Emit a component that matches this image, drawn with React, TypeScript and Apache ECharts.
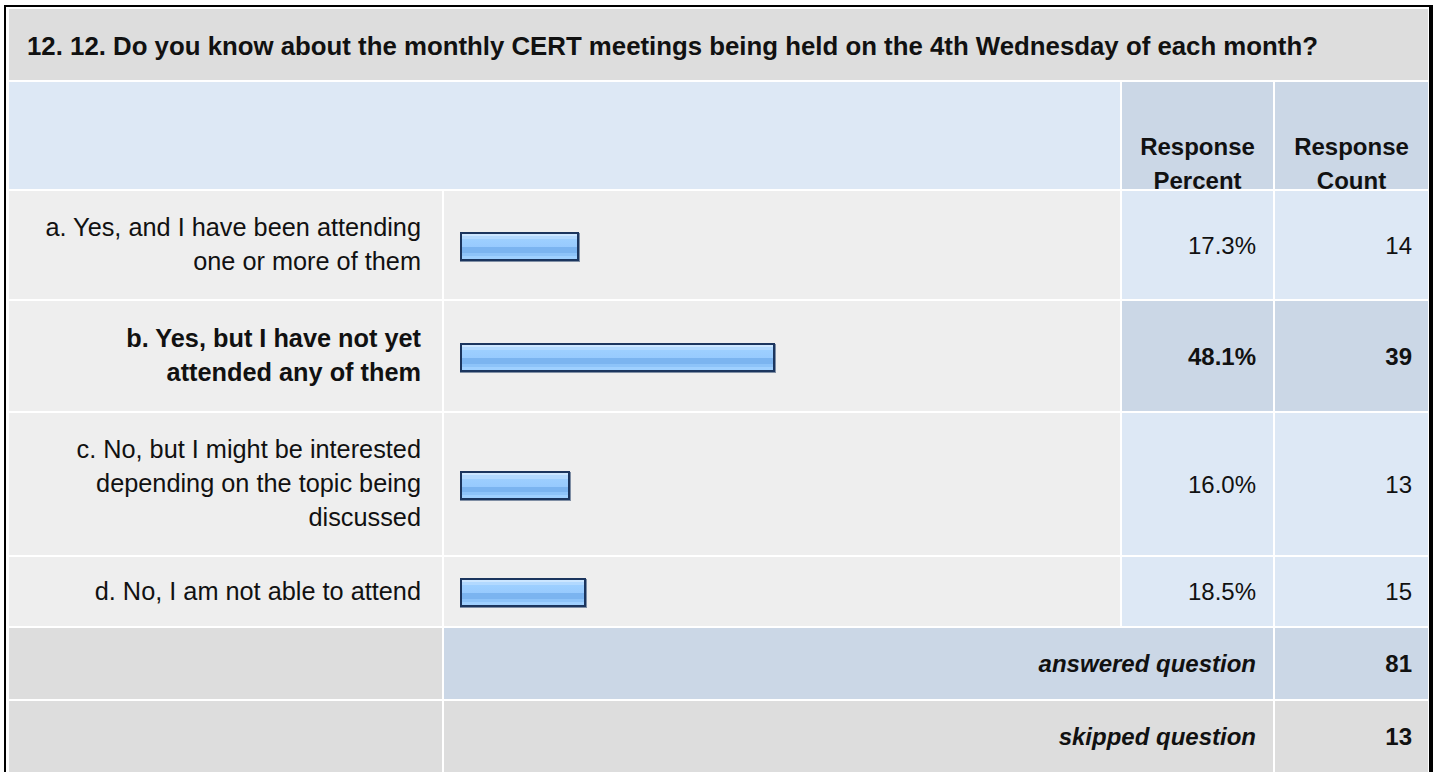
import React, { useEffect, useRef } from "react";
import * as echarts from "echarts";

// ---------- data ----------
const questionTitle =
  "12. 12. Do you know about the monthly CERT meetings being held on the 4th Wednesday of each month?";
const answerLabels = [
  "a. Yes, and I have been attending\none or more of them",
  "b. Yes, but I have not yet\nattended any of them",
  "c. No, but I might be interested\ndepending on the topic being\ndiscussed",
  "d. No, I am not able to attend",
];
const responsePercent = [17.3, 48.1, 16.0, 18.5];
const responseCount = [14, 39, 13, 15];
const columnHeaders = ["Response\nPercent", "Response\nCount"];
const summaryLabels = ["answered question", "skipped question"];
const summaryCounts = [81, 13];

// ---------- layout / style ----------
const FONT = "'Liberation Sans', Arial, Helvetica, sans-serif";
const FS = 24;
const FS_LABEL = 25.3;
const FS_TITLE = 25.8;
const LH = 34;
const TXT = "#111111";
const C_GRAY = "#DDDDDD";
const C_ROW = "#EEEEEE";
const C_BLUE = "#DDE8F5";
const C_BLUE_D = "#CBD7E6";
const COL = {
  labelL: 9, labelR: 442,
  barL: 444, barR: 1120,
  pctL: 1122, pctR: 1273,
  cntL: 1275, cntR: 1428,
};
const ROW_TITLE = [9, 80];
const ROW_HEAD = [82, 189];
const ROWS = [[191, 299], [301, 411], [413, 555], [557, 626]];
const ROW_SUM = [[628, 699], [701, 780]];
const BAR_LEFT = 460;
const BAR_SCALE_W = 639; // width of 0..100 %
const BAR_EXTRA = 8;
const BAR_H = 29;

const barGradient = {
  type: "linear", x: 0, y: 0, x2: 0, y2: 1,
  colorStops: [
    { offset: 0, color: "#CCE6FF" }, { offset: 0.09, color: "#CCE6FF" },
    { offset: 0.09, color: "#B2D9FF" }, { offset: 0.22, color: "#B2D9FF" },
    { offset: 0.22, color: "#9DCFFF" }, { offset: 0.54, color: "#97CAFE" },
    { offset: 0.54, color: "#7BB4F0" }, { offset: 0.76, color: "#7BB4F0" },
    { offset: 0.76, color: "#8DC3F9" }, { offset: 0.88, color: "#8DC3F9" },
    { offset: 0.88, color: "#9FD0FF" }, { offset: 1, color: "#9FD0FF" },
  ],
};

function rect(x1: number, y1: number, x2: number, y2: number, fill: string) {
  return { type: "rect", silent: true, z: 0, shape: { x: x1, y: y1, width: x2 - x1, height: y2 - y1 }, style: { fill } };
}
function text(x: number, y: number, t: string, opts: any = {}) {
  return {
    type: "text", silent: true, z: 10, x, y,
    style: {
      text: t, fill: TXT, fontSize: opts.size || FS, fontFamily: FONT, lineHeight: LH,
      align: opts.align || "right", verticalAlign: "middle",
      fontWeight: opts.bold ? "bold" : "normal",
      fontStyle: opts.italic ? "italic" : "normal",
    },
  };
}

export default function App() {
  const ref = useRef<HTMLDivElement>(null);
  useEffect(() => {
    if (!ref.current) return;
    const chart = echarts.init(ref.current, null, { renderer: "svg" });
    const maxIdx = responsePercent.indexOf(Math.max(...responsePercent));
    const mid = (r: number[]) => (r[0] + r[1]) / 2;

    const g: any[] = [];
    // outer frame
    g.push(rect(4, 5, 1433, 7, "#000"));
    g.push(rect(4, 5, 6, 772, "#000"));
    // title row
    g.push(rect(COL.labelL, ROW_TITLE[0], COL.cntR, ROW_TITLE[1], C_GRAY));
    g.push(text(27, mid(ROW_TITLE) + 1, questionTitle, { align: "left", bold: true, size: FS_TITLE }));
    // header row
    g.push(rect(COL.labelL, ROW_HEAD[0], COL.barR, ROW_HEAD[1], C_BLUE));
    g.push(rect(COL.pctL, ROW_HEAD[0], COL.pctR, ROW_HEAD[1], C_BLUE_D));
    g.push(rect(COL.cntL, ROW_HEAD[0], COL.cntR, ROW_HEAD[1], C_BLUE_D));
    g.push(text((COL.pctL + COL.pctR) / 2, 163, columnHeaders[0], { align: "center", bold: true }));
    g.push(text((COL.cntL + COL.cntR) / 2, 163, columnHeaders[1], { align: "center", bold: true }));
    // answer rows
    ROWS.forEach((r, i) => {
      const hi = i === maxIdx;
      g.push(rect(COL.labelL, r[0], COL.labelR, r[1], C_ROW));
      g.push(rect(COL.barL, r[0], COL.barR, r[1], C_ROW));
      g.push(rect(COL.pctL, r[0], COL.pctR, r[1], hi ? C_BLUE_D : C_BLUE));
      g.push(rect(COL.cntL, r[0], COL.cntR, r[1], hi ? C_BLUE_D : C_BLUE));
      const cy = mid(r);
      g.push(text(421, cy - 1, answerLabels[i], { bold: hi, size: FS_LABEL }));
      g.push(text(1256, cy, responsePercent[i].toFixed(1) + "%", { bold: hi }));
      g.push(text(1412, cy, String(responseCount[i]), { bold: hi }));
    });
    // summary rows
    ROW_SUM.forEach((r, i) => {
      const bg = i === 0 ? C_BLUE_D : C_GRAY;
      g.push(rect(COL.labelL, r[0], COL.labelR, r[1], C_GRAY));
      g.push(rect(COL.barL, r[0], COL.pctR, r[1], bg));
      g.push(rect(COL.cntL, r[0], COL.cntR, r[1], bg));
      const cy = (r[0] + Math.min(r[1], 772)) / 2;
      g.push(text(1256, cy, summaryLabels[i], { bold: true, italic: true }));
      g.push(text(1412, cy, String(summaryCounts[i]), { bold: true }));
    });
    // right frame on top
    g.push({ ...rect(1429, 5, 1433, 772, "#000"), z: 20 });

    const grids = ROWS.map((r) => ({
      left: BAR_LEFT, top: r[0], height: r[1] - r[0], width: BAR_SCALE_W, containLabel: false,
    }));
    const xAxes = ROWS.map((_, i) => ({ type: "value", gridIndex: i, min: 0, max: 100, show: false }));
    const yAxes = ROWS.map((_, i) => ({
      type: "category", gridIndex: i, data: [answerLabels[i]], show: false,
    }));
    const series = ROWS.map((_, i) => ({
      type: "custom",
      name: answerLabels[i],
      xAxisIndex: i,
      yAxisIndex: i,
      z: 5,
      silent: true,
      data: [[responsePercent[i], 0]],
      renderItem: (params: any, api: any) => {
        const p0 = api.coord([0, api.value(1)]);
        const p1 = api.coord([api.value(0), api.value(1)]);
        const x = Math.round(p0[0]);
        const w = Math.round(p1[0] - p0[0] + BAR_EXTRA);
        const y = Math.round(p0[1] - BAR_H / 2 + 1);
        return {
          type: "group",
          children: [
            { type: "rect", shape: { x: x, y: y + 1, width: w + 1, height: BAR_H }, style: { fill: "#7F8EA4" } },
            { type: "rect", shape: { x, y, width: w, height: BAR_H }, style: { fill: "#1B355E" } },
            { type: "rect", shape: { x: x + 2, y: y + 2, width: w - 4, height: BAR_H - 4 }, style: { fill: barGradient } },
          ],
        };
      },
    }));

    chart.setOption({
      animation: false,
      backgroundColor: "#ffffff",
      grid: grids,
      xAxis: xAxes,
      yAxis: yAxes,
      series,
      graphic: { elements: g },
    });
    return () => chart.dispose();
  }, []);
  return (
    <div
      ref={ref}
      style={{ position: "absolute", left: 0, top: 0, width: 1437, height: 772, overflow: "hidden" }}
    />
  );
}
